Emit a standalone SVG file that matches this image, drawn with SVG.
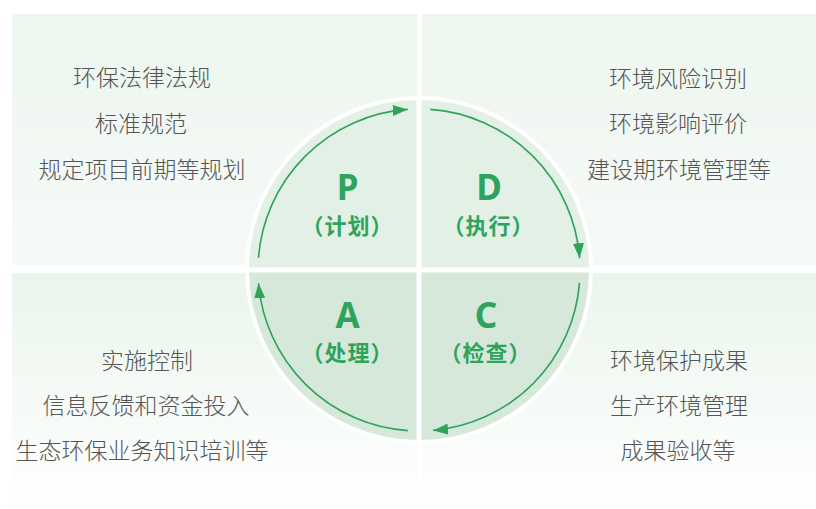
<svg xmlns="http://www.w3.org/2000/svg" width="816" height="509" viewBox="0 0 816 509">
<style>
.t{font-family:"Noto Sans CJK SC","Noto Sans",sans-serif;font-weight:300;font-size:23px;fill:#555;text-anchor:middle}
.big{font-family:"Noto Sans","Noto Sans CJK SC",sans-serif;font-weight:bold;font-size:35px;fill:#2fa35c;text-anchor:middle}
.sub{font-family:"Noto Sans CJK SC",sans-serif;font-weight:bold;font-size:22px;letter-spacing:1px;fill:#2fa35c;text-anchor:middle}
.arc{fill:none;stroke:#2ea35a;stroke-width:1.6}
</style>
<defs>
<linearGradient id="gt" x1="0" y1="0" x2="0" y2="1"><stop offset="0" stop-color="#edf6ef"/><stop offset="1" stop-color="#f6faf7"/></linearGradient>
<linearGradient id="gb" x1="0" y1="0" x2="0" y2="1"><stop offset="0" stop-color="#eaf5ec"/><stop offset="1" stop-color="#ffffff"/></linearGradient>
<marker id="ah" viewBox="0 0 15 11" refX="15" refY="5.5" markerWidth="15" markerHeight="11" markerUnits="userSpaceOnUse" orient="auto"><path d="M0,0 L15,5.5 L0,11 z" fill="#2ea35a"/></marker>
</defs>
<rect width="816" height="509" fill="#fff"/>
<g id="background">
<rect x="12" y="14" width="405" height="251" fill="url(#gt)"/>
<rect x="422" y="14" width="394" height="251" fill="url(#gt)"/>
<rect x="12" y="273" width="405" height="236" fill="url(#gb)"/>
<rect x="422" y="273" width="394" height="236" fill="url(#gb)"/>
</g>
<circle cx="419" cy="270" r="174" fill="#fff"/>
<g id="node-P">
<path d="M416.5,267.5 L249,267.5 A170,170 0 0 1 416.5,100 Z" fill="#e2f0e5"/>
<text class="big" x="347.5" y="200">P</text>
<text class="sub" x="347.5" y="234">（计划）</text>
</g>
<g id="node-D">
<path d="M421.5,267.5 L421.5,100 A170,170 0 0 1 589,267.5 Z" fill="#e2f0e5"/>
<text class="big" x="489" y="200">D</text>
<text class="sub" x="488.5" y="234">（执行）</text>
</g>
<g id="node-C">
<path d="M421.5,272.5 L589,272.5 A170,170 0 0 1 421.5,440 Z" fill="#d6e8da"/>
<text class="big" x="486" y="328">C</text>
<text class="sub" x="485.5" y="361">（检查）</text>
</g>
<g id="node-A">
<path d="M416.5,272.5 L416.5,440 A170,170 0 0 1 249,272.5 Z" fill="#d6e8da"/>
<text class="big" x="347.5" y="328">A</text>
<text class="sub" x="347.5" y="361">（处理）</text>
</g>
<g id="connectors">
<path class="arc" marker-end="url(#ah)" d="M258.5,257.9 A161,161 0 0 1 407.8,109.4"/>
<path class="arc" marker-end="url(#ah)" d="M430.2,109.4 A161,161 0 0 1 579.6,258.2"/>
<path class="arc" marker-end="url(#ah)" d="M579.5,282.9 A161,161 0 0 1 433,430.4"/>
<path class="arc" marker-end="url(#ah)" d="M407.8,430.6 A161,161 0 0 1 258.5,283.2"/>
</g>
<g id="text-P">
<text class="t" x="142" y="86">环保法律法规</text>
<text class="t" x="141" y="132">标准规范</text>
<text class="t" x="142" y="178">规定项目前期等规划</text>
</g>
<g id="text-D">
<text class="t" x="678" y="87">环境风险识别</text>
<text class="t" x="678" y="132">环境影响评价</text>
<text class="t" x="679" y="178">建设期环境管理等</text>
</g>
<g id="text-A">
<text class="t" x="147" y="369">实施控制</text>
<text class="t" x="146" y="414">信息反馈和资金投入</text>
<text class="t" x="142" y="459">生态环保业务知识培训等</text>
</g>
<g id="text-C">
<text class="t" x="679" y="369">环境保护成果</text>
<text class="t" x="679" y="414">生产环境管理</text>
<text class="t" x="678" y="459">成果验收等</text>
</g>
</svg>
